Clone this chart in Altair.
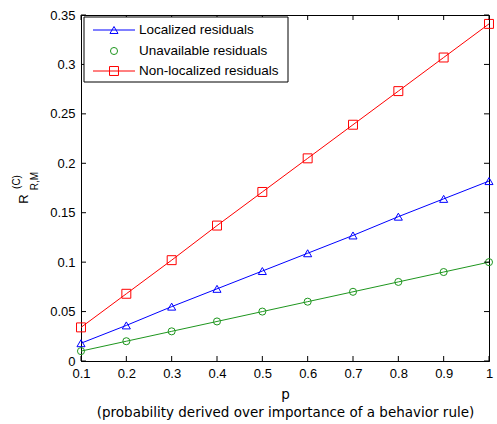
import altair as alt
import pandas as pd

p = [0.1, 0.2, 0.3, 0.4, 0.5, 0.6, 0.7, 0.8, 0.9, 1.0]
localized = [0.018, 0.036, 0.055, 0.073, 0.091, 0.109, 0.127, 0.146, 0.164, 0.182]
unavailable = [0.010, 0.020, 0.030, 0.040, 0.050, 0.060, 0.070, 0.080, 0.090, 0.100]
nonlocalized = [0.034, 0.068, 0.102, 0.137, 0.171, 0.205, 0.239, 0.273, 0.307, 0.341]

series_names = ["Localized residuals", "Unavailable residuals", "Non-localized residuals"]
series_colors = ["#0000ff", "#1e961e", "#ff0000"]
series_shapes = ["triangle-up", "circle", "square"]
series_sizes = [65, 50, 80]

x_ticks = [0.1, 0.2, 0.3, 0.4, 0.5, 0.6, 0.7, 0.8, 0.9, 1.0]
y_ticks = [0, 0.05, 0.1, 0.15, 0.2, 0.25, 0.3, 0.35]

W, H = 408, 346
FONT = "Liberation Sans"
TFONT = "DejaVu Sans"

xscale = alt.Scale(domain=[0.1, 1.0], nice=False, zero=False)
yscale = alt.Scale(domain=[0, 0.35], nice=False)

xaxis = alt.Axis(
    values=x_ticks, labelExpr="format(datum.value, '.1~f')",
    title=["p", "(probability derived over importance of a behavior rule)"],
    titleFont=TFONT, titleFontSize=13.5,
    titleLineHeight=18, titlePadding=7, labelFlush=False, labelOverlap=False)
yaxis = alt.Axis(
    values=y_ticks,
    labelExpr="datum.value == 0 ? '0' : format(datum.value, '.2~f')",
    title="", labelFlush=False, labelOverlap=False)

layers = []
all_vals = [localized, unavailable, nonlocalized]
for i, (name, vals) in enumerate(zip(series_names, all_vals)):
    df = pd.DataFrame({"p": p, "value": vals})
    line = alt.Chart(df).mark_line(color=series_colors[i], strokeWidth=1).encode(
        x=alt.X("p:Q", scale=xscale, axis=xaxis),
        y=alt.Y("value:Q", scale=yscale, axis=yaxis),
    )
    pts = alt.Chart(df).mark_point(
        shape=series_shapes[i], filled=False, color=series_colors[i],
        size=series_sizes[i], strokeWidth=1, opacity=1
    ).encode(x=alt.X("p:Q", scale=xscale, axis=xaxis),
             y=alt.Y("value:Q", scale=yscale, axis=yaxis))
    layers += [line, pts]

# inward ticks (MATLAB style)
xt = pd.DataFrame({"p": x_ticks})
yt = pd.DataFrame({"value": y_ticks})
tick_len = 5
layers.append(alt.Chart(xt).mark_rule(color="black", strokeWidth=1).encode(
    x=alt.X("p:Q", scale=xscale, axis=xaxis), y=alt.value(H), y2=alt.value(H - tick_len)))
layers.append(alt.Chart(xt).mark_rule(color="black", strokeWidth=1).encode(
    x=alt.X("p:Q", scale=xscale, axis=xaxis), y=alt.value(0), y2=alt.value(tick_len)))
layers.append(alt.Chart(yt).mark_rule(color="black", strokeWidth=1).encode(
    y=alt.Y("value:Q", scale=yscale, axis=yaxis), x=alt.value(0), x2=alt.value(tick_len)))
layers.append(alt.Chart(yt).mark_rule(color="black", strokeWidth=1).encode(
    y=alt.Y("value:Q", scale=yscale, axis=yaxis), x=alt.value(W), x2=alt.value(W - tick_len)))

# legend box
one = pd.DataFrame({"a": [0]})
layers.append(alt.Chart(one).mark_rect(fill="white", stroke="black", strokeWidth=1).encode(
    x=alt.value(3), x2=alt.value(207), y=alt.value(2), y2=alt.value(67)))
rows_y = [15, 36, 56]
for i, name in enumerate(series_names):
    if i != 1:
        layers.append(alt.Chart(one).mark_rule(color=series_colors[i], strokeWidth=1).encode(
            x=alt.value(12), x2=alt.value(54), y=alt.value(rows_y[i])))
    layers.append(alt.Chart(one).mark_point(
        shape=series_shapes[i], filled=False, color=series_colors[i],
        size=series_sizes[i], strokeWidth=1, opacity=1).encode(
        x=alt.value(33), y=alt.value(rows_y[i])))
    layers.append(alt.Chart(one).mark_text(
        text=name, align="left", baseline="middle", font=FONT, fontSize=13.5, color="black").encode(
        x=alt.value(58), y=alt.value(rows_y[i])))

# y axis title R^(C)_{R,M}
layers.append(alt.Chart(one).mark_text(
    text="R", angle=270, align="center", baseline="middle", font=FONT, fontSize=13, color="black").encode(
    x=alt.value(-57), y=alt.value(184)))
layers.append(alt.Chart(one).mark_text(
    text="(C)", angle=270, align="center", baseline="middle", font=FONT, fontSize=10, color="black").encode(
    x=alt.value(-64), y=alt.value(167)))
layers.append(alt.Chart(one).mark_text(
    text="R,M", angle=270, align="center", baseline="middle", font=FONT, fontSize=10, color="black").encode(
    x=alt.value(-46), y=alt.value(166)))

chart = alt.layer(*layers).properties(
    width=W, height=H,
    autosize=alt.AutoSizeParams(type="none"),
    padding={"left": 81, "top": 15, "right": 8, "bottom": 63},
).configure_view(stroke="black", strokeWidth=1).configure_axis(
    domainColor="black", tickSize=0, labelFont=FONT, labelFontSize=13,
    labelColor="black", titleFont=FONT, titleFontSize=13, titleFontWeight="normal",
    titleColor="black", labelPadding=6, grid=False
)

chart.save("out.html", embed_options={"renderer": "svg", "actions": False})
